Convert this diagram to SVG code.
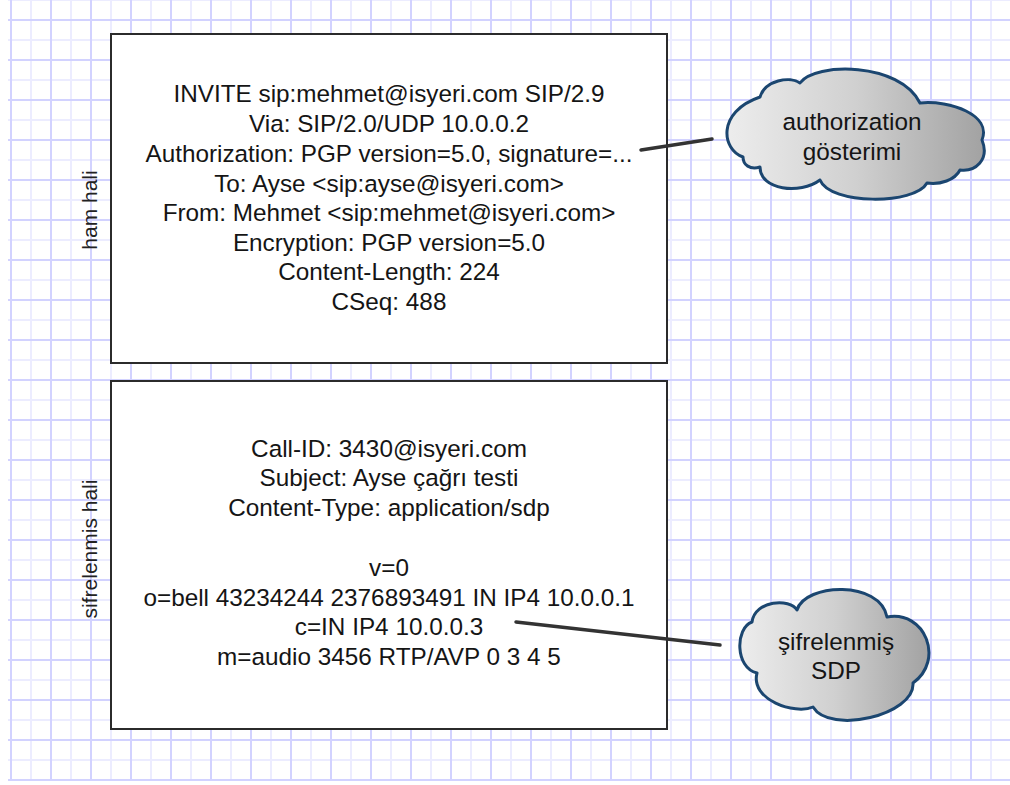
<svg xmlns="http://www.w3.org/2000/svg" width="1010" height="785" viewBox="0 0 1010 785">
  <style>
    .box { fill: #ffffff; stroke: #2b2b2b; stroke-width: 2; }
    .txt { font-family: "Liberation Sans", Arial, sans-serif; font-size: 24.3px; fill: #151515; text-anchor: middle; }
    .side { font-family: "Liberation Sans", Arial, sans-serif; font-size: 21px; fill: #222222; text-anchor: middle; }
    .cloud { fill: url(#cloudFill); stroke: #1b4670; stroke-width: 3; stroke-linejoin: round; }
    .link { stroke: #333333; stroke-width: 3.5; stroke-linecap: round; fill: none; }
  </style>
  <defs>
    <pattern id="grid" width="40" height="40" patternUnits="userSpaceOnUse" x="-19" y="-10">
      <path d="M10 0V40M0 10H40" stroke="#ececff" stroke-width="2" fill="none"/>
      <path d="M30 0V40M0 30H40" stroke="#d2d2ff" stroke-width="2" fill="none"/>
    </pattern>
    <linearGradient id="cloudFill" x1="0" y1="0" x2="1" y2="0">
      <stop offset="0" stop-color="#ededed"/>
      <stop offset="0.5" stop-color="#d0d0d0"/>
      <stop offset="1" stop-color="#a2a2a2"/>
    </linearGradient>
  </defs>

  <!-- graph paper background -->
  <rect x="0" y="0" width="1010" height="785" fill="#ffffff"/>
  <rect x="8" y="0" width="1002" height="781" fill="url(#grid)"/>

  <!-- raw header block -->
  <g id="raw-block">
    <rect class="box" x="111" y="34" width="556" height="329"/>
    <text class="txt" x="389" y="102">INVITE sip:mehmet@isyeri.com SIP/2.9</text>
    <text class="txt" x="389" y="132">Via: SIP/2.0/UDP 10.0.0.2</text>
    <text class="txt" x="389" y="162">Authorization: PGP version=5.0, signature=...</text>
    <text class="txt" x="389" y="192">To: Ayse &lt;sip:ayse@isyeri.com&gt;</text>
    <text class="txt" x="389" y="221">From: Mehmet &lt;sip:mehmet@isyeri.com&gt;</text>
    <text class="txt" x="389" y="251">Encryption: PGP version=5.0</text>
    <text class="txt" x="389" y="280">Content-Length: 224</text>
    <text class="txt" x="389" y="310">CSeq: 488</text>
  </g>
  <g id="raw-label">
    <text class="side" transform="translate(97 210) rotate(-90)">ham hali</text>
  </g>

  <!-- encrypted block -->
  <g id="encrypted-block">
    <rect class="box" x="111" y="381" width="556" height="348"/>
    <text class="txt" x="389" y="457">Call-ID: 3430@isyeri.com</text>
    <text class="txt" x="389" y="486">Subject: Ayse çağrı testi</text>
    <text class="txt" x="389" y="516">Content-Type: application/sdp</text>
    <text class="txt" x="389" y="576">v=0</text>
    <text class="txt" x="389" y="606">o=bell 43234244 2376893491 IN IP4 10.0.0.1</text>
    <text class="txt" x="389" y="635">c=IN IP4 10.0.0.3</text>
    <text class="txt" x="389" y="665">m=audio 3456 RTP/AVP 0 3 4 5</text>
  </g>
  <g id="encrypted-label">
    <text class="side" transform="translate(97 549) rotate(-90)">sifrelenmis hali</text>
  </g>

  <!-- connectors -->
  <g id="connectors">
    <line class="link" x1="641" y1="150" x2="712" y2="139"/>
    <line class="link" x1="516" y1="622" x2="720" y2="645"/>
  </g>

  <!-- callout clouds -->
  <g id="cloud-authorization">
    <path class="cloud" d="M743,157 C722,150 716,112 760,97 C765,80 790,76 800,83 C815,62 900,62 920,103 C950,100 992,115 982,140 C990,160 975,172 960,170 C955,180 940,185 927,183 C915,205 830,205 820,180 C800,195 760,190 760,167 C750,170 743,165 743,157 Z"/>
    <text class="txt" x="852" y="130">authorization</text>
    <text class="txt" x="852" y="160">gösterimi</text>
  </g>
  <g id="cloud-sdp">
    <path class="cloud" d="M757,673 C735,668 735,628 752,622 C755,600 790,598 797,610 C805,583 880,580 887,617 C925,610 945,660 913,683 C915,715 830,735 813,707 C795,715 750,700 757,673 Z"/>
    <text class="txt" x="836" y="650">şifrelenmiş</text>
    <text class="txt" x="836" y="679">SDP</text>
  </g>
</svg>
